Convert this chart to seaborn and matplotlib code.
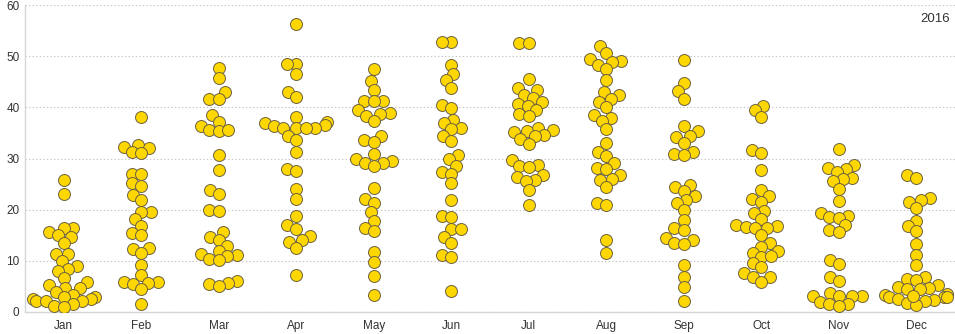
import matplotlib
matplotlib.use("Agg")
import matplotlib.pyplot as plt
import seaborn as sns
import pandas as pd

months = ["Jan", "Feb", "Mar", "Apr", "May", "Jun", "Jul", "Aug", "Sep", "Oct", "Nov", "Dec"]

jan = [25.8, 23.1, 16.5, 16.5, 15.6, 15.0, 14.6, 13.5, 11.3, 11.3, 9.9, 8.9, 8.5, 8.1, 6.6, 5.8,
       5.2, 4.7, 4.7, 4.0, 3.4, 2.9, 2.9, 2.6, 2.5, 2.2, 2.1, 2.1, 1.6, 1.2, 1.0]
feb = [38.2, 32.7, 32.3, 32.1, 31.2, 31.0, 27.0, 27.0, 25.2, 24.7, 22.8, 21.9, 19.6, 19.5, 18.2,
       16.9, 15.4, 15.1, 12.6, 12.3, 11.5, 9.2, 7.2, 5.9, 5.9, 5.5, 5.7, 4.5, 1.6]
mar = [47.6, 45.8, 43.0, 41.7, 41.6, 38.5, 37.2, 36.4, 35.5, 35.4, 35.5, 30.6, 27.7, 23.9, 23.1,
       20.0, 19.7, 15.6, 14.7, 14.0, 12.9, 12.0, 11.3, 11.1, 11.0, 10.3, 10.1, 6.0, 5.5, 5.7, 5.1]
apr = [56.2, 48.4, 48.4, 46.6, 42.9, 42.0, 38.2, 37.2, 36.9, 36.4, 36.6, 35.9, 36.0, 36.0, 35.9,
       34.4, 33.6, 31.3, 28.0, 27.5, 24.1, 22.1, 18.7, 17.0, 16.3, 14.8, 13.6, 14.0, 12.5, 7.2]
may = [47.4, 45.1, 43.4, 41.3, 41.3, 41.3, 39.4, 38.8, 38.6, 38.4, 37.3, 34.4, 33.6, 33.3, 30.9,
       29.9, 29.6, 29.1, 29.2, 28.6, 24.2, 22.1, 21.4, 19.5, 17.8, 16.4, 15.9, 11.7, 9.7, 7.0, 3.4]
jun = [52.7, 52.7, 48.3, 46.5, 45.3, 43.8, 40.5, 39.8, 37.5, 36.9, 35.9, 35.7, 34.3, 33.4, 30.6,
       29.9, 28.6, 27.4, 27.0, 25.2, 21.9, 18.8, 18.5, 16.2, 16.2, 14.6, 13.5, 11.2, 10.7, 4.2]
jul = [52.6, 52.5, 45.5, 43.8, 43.4, 42.4, 41.8, 41.0, 40.6, 40.3, 39.5, 38.7, 38.4, 36.0, 35.5,
       35.1, 35.3, 34.6, 34.3, 33.8, 32.9, 29.7, 28.8, 28.6, 28.3, 26.8, 26.3, 25.8, 25.6, 23.9, 20.9]
aug = [52.0, 50.7, 49.4, 49.1, 48.9, 48.2, 47.4, 45.3, 42.9, 42.4, 41.6, 41.1, 40.0, 38.5, 37.9,
       37.4, 35.8, 33.0, 31.3, 30.5, 29.1, 28.1, 28.0, 26.7, 25.8, 26.0, 24.5, 21.4, 21.0, 14.1, 11.6]
sep = [49.3, 44.7, 43.1, 41.6, 36.4, 35.4, 34.4, 34.2, 33.1, 31.2, 30.8, 30.6, 24.9, 24.4, 23.6,
       22.6, 21.8, 21.3, 20.0, 17.9, 16.5, 16.1, 14.5, 14.0, 13.5, 13.3, 9.2, 6.8, 4.9, 2.2]
oct_ = [40.3, 39.5, 38.2, 31.6, 31.0, 27.7, 23.9, 22.6, 22.1, 21.5, 19.8, 19.3, 18.1, 17.0, 16.9,
        16.6, 16.5, 16.5, 15.1, 13.5, 12.8, 12.0, 11.6, 10.7, 10.9, 9.6, 8.8, 7.6, 6.8, 6.8, 5.9]
nov = [31.8, 28.8, 27.9, 28.2, 27.4, 26.2, 26.0, 25.6, 24.1, 21.7, 19.3, 18.8, 18.5, 18.3, 17.0,
       16.1, 15.7, 10.1, 9.4, 6.8, 6.0, 3.8, 3.2, 3.2, 3.2, 3.1, 2.0, 1.6, 1.6, 1.2]
dec = [26.8, 26.2, 22.3, 21.9, 21.5, 20.3, 17.8, 16.9, 15.9, 13.3, 11.1, 9.1, 6.8, 6.5, 6.3, 5.3,
       4.9, 4.6, 4.5, 4.4, 3.6, 3.4, 2.9, 2.9, 2.9, 2.5, 2.4, 2.2, 1.8, 1.4, 3.1]

series = [jan, feb, mar, apr, may, jun, jul, aug, sep, oct_, nov, dec]
year_label = "2016"

rows = []
for m, vals in zip(months, series):
    for v in vals:
        rows.append({"month": m, "value": v})
df = pd.DataFrame(rows)

sns.set_theme(style="white")
plt.rcParams["font.family"] = ["Liberation Sans", "DejaVu Sans"]

fig = plt.figure(figsize=(9.55, 3.34), dpi=100)
ax = fig.add_axes([25 / 955, 1 - 312 / 334, 930 / 955, 307 / 334])

ax.set_ylim(0, 60)
ax.set_xlim(-0.5, 11.5)

# lay out the swarm with a smaller collision size so markers overlap a bit
layout_size = 5.9
draw_size = 8.6
sns.swarmplot(data=df, x="month", y="value", order=months, ax=ax,
              color="#FFD700", edgecolor="#6b6140", linewidth=0.7, size=layout_size)
ax.set_ylim(0, 60)
ax.set_xlim(-0.5, 11.5)
fig.canvas.draw()
for coll in ax.collections:
    if "draw" in coll.__dict__:
        del coll.draw
    coll.set_sizes([draw_size ** 2])

ax.set_yticks([0, 10, 20, 30, 40, 50, 60])
ax.set_xlabel("")
ax.set_ylabel("")
ax.yaxis.grid(True, linestyle=(0, (1.2, 2.0)), color="#c4c4c4", linewidth=0.8)
ax.xaxis.grid(False)
ax.set_axisbelow(True)
for side in ["top", "right"]:
    ax.spines[side].set_visible(False)
for side in ["left", "bottom"]:
    ax.spines[side].set_color("#d6d6d6")
    ax.spines[side].set_linewidth(1.0)
ax.tick_params(axis="both", length=0, labelsize=8.5, colors="#333333", pad=6)
ax.tick_params(axis="y", pad=4)
ax.text(0.995, 0.975, year_label, transform=ax.transAxes, ha="right", va="top",
        fontsize=9.5, color="#333333")

fig.savefig("out.png", dpi=100)
